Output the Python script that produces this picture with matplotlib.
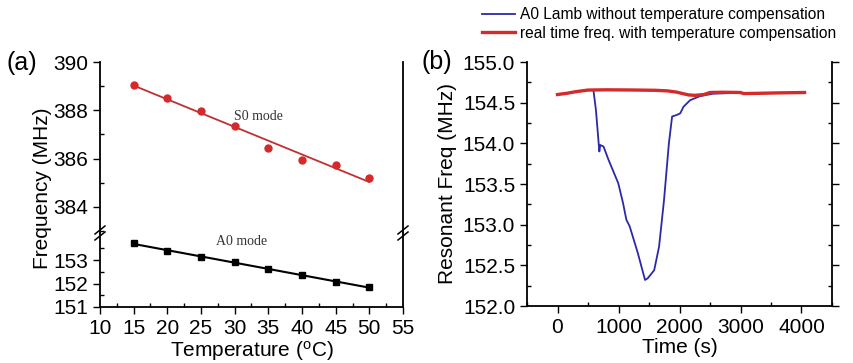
import numpy as np
import matplotlib
matplotlib.use("Agg")
import matplotlib.pyplot as plt
from matplotlib.lines import Line2D
from matplotlib.ticker import MultipleLocator, FixedLocator

plt.rcParams['font.family'] = ['Liberation Sans', 'DejaVu Sans']

# (a) frequency vs temperature
temps = [15, 20, 25, 30, 35, 40, 45, 50]
s0_freq = [389.05, 388.52, 387.97, 387.35, 386.46, 385.95, 385.74, 385.18]
a0_freq = [153.71, 153.40, 153.14, 152.90, 152.60, 152.36, 152.08, 151.84]

# (b) resonant frequency vs time
t_blue = [590, 630, 686, 701, 755, 835, 996, 1076, 1129, 1183, 1317, 1435, 1478,
          1585, 1665, 1746, 1826, 1879, 1960, 2013, 2066, 2173, 2334, 2548, 2923, 3000]
f_blue = [154.65, 154.41, 153.90, 153.98, 153.96, 153.80, 153.51, 153.26, 153.06,
          152.98, 152.65, 152.32, 152.34, 152.44, 152.73, 153.30, 154.00, 154.33,
          154.35, 154.37, 154.45, 154.53, 154.58, 154.61, 154.62, 154.62]
t_red = [0, 150, 300, 500, 800, 1200, 1600, 1800, 1950, 2050, 2150, 2250, 2400,
         2500, 2700, 3000, 3050, 3300, 3600, 4050]
f_red = [154.60, 154.615, 154.635, 154.655, 154.658, 154.656, 154.652, 154.645,
         154.63, 154.612, 154.595, 154.59, 154.60, 154.625, 154.628, 154.625,
         154.612, 154.615, 154.62, 154.625]

legend_labels = ["A0 Lamb without temperature compensation",
                 "real time freq. with temperature compensation"]

W, H = 854, 363
fig = plt.figure(figsize=(W / 100, H / 100), dpi=100)

fs = 15
red = '#d42a2a'
blue = '#2a2aa8'

# ---- panel (a): broken y axis made of two stacked axes
ax_left, ax_right = 100 / W, 403 / W
y_bot, y_brk, y_top = 1 - 307 / H, 1 - 233 / H, 1 - 62 / H
ax_up = fig.add_axes([ax_left, y_brk, ax_right - ax_left, y_top - y_brk])
ax_lo = fig.add_axes([ax_left, y_bot, ax_right - ax_left, y_brk - y_bot], sharex=ax_up)

x = np.array(temps)
p_s0 = np.polyfit(x, s0_freq, 1)
p_a0 = np.polyfit(x, a0_freq, 1)
ax_up.plot(x, np.polyval(p_s0, x), color='#c03030', lw=1.3)
ax_up.plot(x, s0_freq, 'o', color=red, ms=5)
ax_lo.plot(x, np.polyval(p_a0, x), color='black', lw=1.5)
ax_lo.plot(x, a0_freq, 's', color='black', ms=4.5)

ax_up.set_ylim(382.92, 390)
ax_lo.set_ylim(151, 154.15)
ax_up.set_xlim(10, 55)
ax_up.yaxis.set_major_locator(MultipleLocator(2))
ax_up.yaxis.set_minor_locator(MultipleLocator(1))
ax_lo.yaxis.set_major_locator(FixedLocator([151, 152, 153]))
ax_lo.yaxis.set_minor_locator(FixedLocator([151.5, 152.5, 153.5]))
ax_lo.xaxis.set_major_locator(MultipleLocator(5))
ax_lo.xaxis.set_minor_locator(MultipleLocator(2.5))

ax_up.spines['top'].set_visible(False)
ax_up.spines['bottom'].set_visible(False)
ax_lo.spines['top'].set_visible(False)
ax_up.tick_params(axis='x', which='both', bottom=False, labelbottom=False)
for a in (ax_up, ax_lo):
    a.tick_params(which='major', direction='out', length=5, width=1, labelsize=fs)
    a.tick_params(which='minor', direction='in', length=3, width=1)
    for s in a.spines.values():
        s.set_linewidth(1.3)

ax_up.text(33.5, 387.75, "S0 mode", family='Liberation Serif', fontsize=10,
           color='#333333', ha='center', va='center')
ax_lo.text(31, 153.8, "A0 mode", family='Liberation Serif', fontsize=10,
           color='#333333', ha='center', va='center')
ax_lo.set_xlabel("Temperature ($\\mathregular{^oC}$)", fontsize=fs, labelpad=1)
fig.text(43 / W, 1 - 188 / H, "Frequency (MHz)", rotation=90, fontsize=fs,
         ha='center', va='center')

# break marks on both spines
def slashes(xf, yf):
    for dy in (-3, 3):
        x0 = xf * W - 5
        x1 = xf * W + 5
        fig.add_artist(Line2D([x0 / W, x1 / W],
                              [(yf * H + dy - 4) / H, (yf * H + dy + 4) / H],
                              transform=fig.transFigure, color='black', lw=1.1))

slashes(ax_left, y_brk)
slashes(ax_right, y_brk)

# ---- panel (b)
bx0, bx1 = 527 / W, 832 / W
by0, by1 = 1 - 306 / H, 1 - 62 / H
axb = fig.add_axes([bx0, by0, bx1 - bx0, by1 - by0])
lb, = axb.plot(t_blue, f_blue, color=blue, lw=1.3)
lr, = axb.plot(t_red, f_red, color=red, lw=2.4)
axb.set_xlim(-500, 4500)
axb.set_ylim(152, 155)
axb.xaxis.set_major_locator(MultipleLocator(1000))
axb.xaxis.set_minor_locator(MultipleLocator(500))
axb.yaxis.set_major_locator(MultipleLocator(0.5))
axb.yaxis.set_minor_locator(MultipleLocator(0.25))
axb.yaxis.set_major_formatter(matplotlib.ticker.FormatStrFormatter('%.1f'))
axb.spines['top'].set_visible(False)
axb.tick_params(which='major', direction='out', length=5, width=1, labelsize=fs)
axb.tick_params(which='minor', direction='in', length=3, width=1)
axb.tick_params(axis='y', which='both', right=True)
for s in axb.spines.values():
    s.set_linewidth(1.3)
axb.set_xlabel("Time (s)", fontsize=fs, labelpad=1)
fig.text(448 / W, 1 - 184 / H, "Resonant Freq (MHz)", rotation=90, fontsize=fs,
         ha='center', va='center')

fig.legend([lb, lr], legend_labels, loc='upper left',
           bbox_to_anchor=(482 / W, 1 - 7 / H), frameon=False, fontsize=11.2,
           handlelength=2.1, handletextpad=0.35, borderpad=0, borderaxespad=0,
           labelspacing=0.25)

fig.text(7 / W, 1 - 63 / H, "(a)", fontsize=18, ha='left', va='center')
fig.text(422 / W, 1 - 62 / H, "(b)", fontsize=18, ha='left', va='center')

fig.savefig("out.png", dpi=100)
